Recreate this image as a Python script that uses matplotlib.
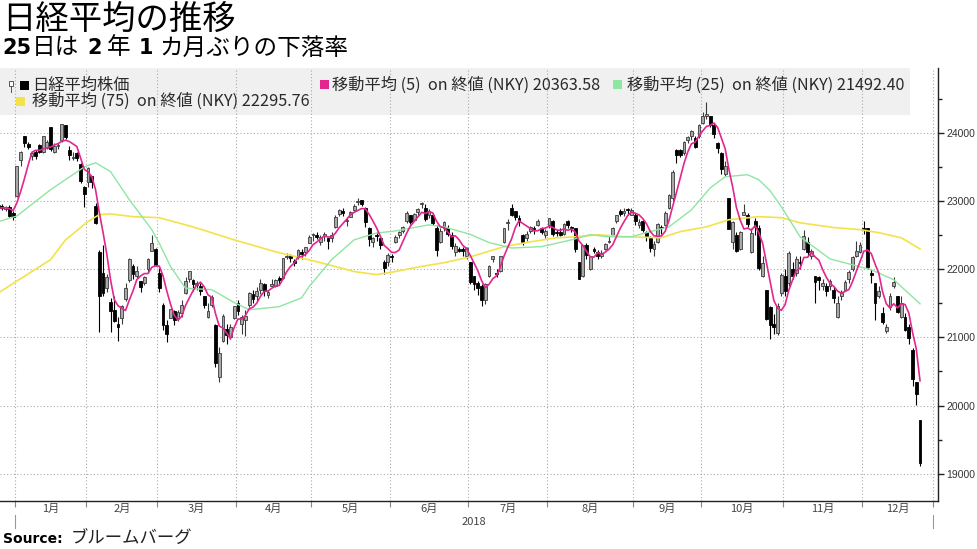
import numpy as np
import pandas as pd
import matplotlib
matplotlib.use("Agg")
import matplotlib.pyplot as plt
from matplotlib.patches import Rectangle
from matplotlib.lines import Line2D
from matplotlib.ticker import MultipleLocator, FixedLocator, NullFormatter
from matplotlib.transforms import blended_transform_factory

W, H = 977, 549
JP = ['Noto Sans CJK JP', 'DejaVu Sans']

## axis layout: trading days per month of 2018 (full months, Dec to the 28th)
month_labels = ['1月', '2月', '3月', '4月', '5月', '6月', '7月', '8月', '9月', '10月', '11月', '12月']
month_days = [19, 19, 21, 20, 21, 21, 21, 23, 18, 22, 21, 19]
n_dec2017 = 9   # Dec 19 - Dec 29 2017, partly off the left edge

## Nikkei 225 daily candles, Dec 19 2017 - Dec 25 2018
opens = [
    22900, 22850, 22880, 22880, 22909, 22922, 22880, 22912, 22830,  # Dec 2017
    23073, 23600, 23948, 23833, 23656, 23719, 23827, 23721, 23783, 24078,
    23722, 23804, 23890, 24110, 23753, 23630, 23706, 23540, 23200,  # Jan
    23276, 23361, 22921, 22250, 21937, 21720, 21520, 21395, 21200, 21279,
    21559, 21847, 22050, 21900, 21821, 21800, 22000, 22270, 22300,  # Feb
    21950, 21474, 21174, 21285, 21390, 21277, 21362, 21650, 21850, 21835,
    21774, 21750, 21600, 21300, 21475, 21185, 20420, 20950, 21120, 21000, 21280,  # Mar
    21500, 21200, 21250, 21470, 21640, 21610, 21700, 21780, 21620, 21760,
    21750, 21870, 21870, 22180, 22200, 22120, 22180, 22250, 22250, 22390,  # Apr
    22500, 22500, 22400, 22480, 22450, 22450, 22620, 22810, 22860, 22700,
    22770, 22870, 22980, 23010, 22900, 22600, 22400, 22500, 22450, 22100, 22100,  # May
    22200, 22400, 22500, 22560, 22700, 22800, 22720, 22840, 22950, 22900,
    22800, 22800, 22600, 22400, 22600, 22600, 22500, 22250, 22300, 22300, 22200,  # Jun
    22100, 21900, 21800, 21750, 21550, 21900, 22150, 21950, 21980, 22400,
    22680, 22900, 22850, 22750, 22500, 22450, 22560, 22600, 22650, 22600, 22500,  # Jul
    22650, 22700, 22550, 22550, 22520, 22700, 22620, 22600, 22100, 21900, 22350,
    22000, 22300, 22250, 22200, 22300, 22400, 22500, 22700, 22850, 22830, 22880, 22800,  # Aug
    22800, 22650, 22700, 22550, 22450, 22300, 22400, 22620, 22650,
    22900, 23050, 23750, 23750, 23700, 23900, 23950, 23930, 23950,  # Sep
    24150, 24250, 24250, 24120, 23850, 23700, 23400, 23050, 22400, 22500, 22300,
    22800, 22800, 22250, 22700, 22600, 21900, 21700, 21450, 21200, 21060, 21650,  # Oct
    21900, 21800, 22000, 21950, 22100, 22300, 22400, 22200, 21900, 21880, 21750,
    21750, 21750, 21700, 21300, 21600, 21700, 21850, 22000, 22200, 22250,  # Nov
    22600, 22600, 21950, 21800, 21600, 21360, 21100, 21450, 21750, 21600,
    21300, 21300, 21150, 20820, 20340, 19785,  # Dec
]
highs = [
    22950, 22930, 22900, 22920, 22950, 22950, 22930, 22940, 22850,
    23506, 23730, 23952, 23864, 23734, 23743, 23833, 23955, 23890, 24084,
    23849, 23856, 24129, 24110, 23809, 23715, 23713, 23560, 23224,
    23492, 23367, 22967, 22280, 22353, 21928, 21580, 21600, 21300, 21480,
    21800, 22160, 22072, 22050, 21821, 21900, 22170, 22502, 22313,
    22019, 21510, 21259, 21422, 21400, 21397, 21555, 21884, 21972, 21857,
    21831, 21797, 21608, 21504, 21614, 21200, 20860, 21349, 21190, 21200, 21454,
    21545, 21330, 21400, 21660, 21700, 21740, 21860, 21800, 21700, 21860,
    21860, 21900, 22170, 22240, 22220, 22150, 22300, 22300, 22330, 22500,
    22530, 22550, 22500, 22550, 22460, 22550, 22790, 22880, 22900, 22760,
    22850, 22950, 23050, 23010, 22910, 22620, 22470, 22540, 22480, 22130, 22240,
    22220, 22500, 22560, 22640, 22860, 22800, 22830, 22900, 22990, 22950,
    22880, 22830, 22650, 22600, 22700, 22650, 22540, 22380, 22330, 22320, 22320,
    22100, 21900, 21830, 21780, 21800, 22060, 22200, 22000, 22200, 22600,
    22730, 22950, 22860, 22800, 22520, 22560, 22640, 22640, 22730, 22620, 22590,
    22750, 22720, 22580, 22600, 22680, 22720, 22640, 22610, 22110, 22360, 22380,
    22200, 22330, 22280, 22280, 22380, 22480, 22620, 22800, 22880, 22890, 22900, 22900,
    22820, 22730, 22720, 22560, 22490, 22420, 22680, 22650, 22850,
    23100, 23450, 23760, 23760, 23880, 23960, 24040, 23950, 24130,
    24306, 24448, 24250, 24140, 23870, 23720, 23590, 23050, 22700, 22550, 22560,
    22960, 22830, 22600, 22750, 22650, 22200, 21700, 21460, 21340, 21500, 21950,
    22000, 22270, 22100, 22200, 22200, 22580, 22470, 22300, 21900, 21900, 21850,
    21800, 21850, 21750, 21600, 21700, 21840, 21990, 22200, 22420, 22400,
    22700, 22610, 22000, 21800, 21750, 21450, 21200, 21650, 21880, 21600,
    21600, 21350, 21200, 20850, 20350, 19790,
]
lows = [
    22830, 22820, 22830, 22850, 22880, 22861, 22860, 22770, 22720,
    23065, 23520, 23789, 23760, 23601, 23622, 23700, 23705, 23755, 23740,
    23700, 23764, 23860, 23914, 23603, 23600, 23586, 23270, 22906,
    23211, 23186, 22659, 21078, 21600, 21662, 21079, 21220, 20950, 21200,
    21540, 21810, 21860, 21866, 21667, 21773, 21950, 22260, 22040,
    21670, 21108, 20937, 21285, 21181, 21246, 21295, 21642, 21805, 21680,
    21689, 21622, 21437, 21279, 21451, 20559, 20347, 20929, 20900, 20980, 21270,
    21330, 21056, 21020, 21450, 21500, 21540, 21630, 21600, 21570, 21750,
    21740, 21770, 21860, 22150, 22100, 22050, 22150, 22150, 22200, 22380,
    22420, 22440, 22350, 22420, 22300, 22400, 22600, 22780, 22780, 22640,
    22760, 22850, 22940, 22920, 22620, 22340, 22320, 22420, 22300, 21930, 22050,
    22100, 22380, 22450, 22530, 22680, 22660, 22700, 22780, 22900, 22700,
    22750, 22650, 22200, 22380, 22560, 22480, 22300, 22200, 22250, 22200, 22150,
    21780, 21700, 21620, 21460, 21490, 21880, 22100, 21880, 21960, 22380,
    22580, 22780, 22720, 22640, 22350, 22420, 22530, 22520, 22630, 22520, 22450,
    22600, 22480, 22480, 22480, 22500, 22610, 22550, 22250, 21850, 21880, 22150,
    21990, 22240, 22150, 22160, 22280, 22380, 22480, 22680, 22780, 22780, 22800, 22790,
    22650, 22600, 22550, 22420, 22250, 22200, 22380, 22520, 22640,
    22880, 23000, 23550, 23640, 23670, 23850, 23900, 23780, 23930,
    24130, 24200, 24080, 23930, 23700, 23400, 23360, 22600, 22300, 22250, 22280,
    22790, 22620, 22240, 22500, 21990, 21880, 21250, 20970, 21050, 21035, 21600,
    21600, 21750, 21850, 21900, 22000, 22280, 22200, 22150, 21500, 21700, 21700,
    21600, 21700, 21500, 21290, 21550, 21680, 21800, 21970, 22180, 22230,
    22520, 22000, 21800, 21260, 21580, 21200, 21060, 21400, 21720, 21350,
    21280, 21100, 20900, 20290, 20006, 19117,
]
closes = [
    22868, 22891, 22866, 22902, 22939, 22892, 22911, 22783, 22765,
    23506, 23714, 23849, 23788, 23710, 23653, 23714, 23951, 23868, 23763,
    23808, 23816, 24124, 23940, 23669, 23631, 23629, 23291, 23098,
    23486, 23274, 22682, 21610, 21645, 21891, 21382, 21245, 21154, 21464,
    21720, 22150, 21925, 21970, 21736, 21892, 22153, 22389, 22068,
    21724, 21181, 21042, 21417, 21252, 21368, 21469, 21824, 21968, 21777,
    21803, 21676, 21480, 21380, 21591, 20617, 20766, 21317, 21031, 21159, 21454,
    21388, 21292, 21320, 21645, 21568, 21678, 21794, 21687, 21660, 21778,
    21835, 21847, 22158, 22191, 22162, 22088, 22278, 22215, 22319, 22467,
    22508, 22472, 22467, 22509, 22408, 22497, 22758, 22865, 22818, 22717,
    22838, 22930, 23002, 22960, 22689, 22437, 22450, 22481, 22358, 22018, 22201,
    22171, 22475, 22539, 22625, 22823, 22694, 22804, 22878, 22966, 22738,
    22851, 22680, 22278, 22555, 22693, 22516, 22338, 22342, 22271, 22270, 22304,
    21811, 21785, 21717, 21546, 21788, 22052, 22196, 21932, 22187, 22597,
    22697, 22794, 22764, 22698, 22397, 22510, 22614, 22586, 22712, 22544, 22553,
    22746, 22512, 22525, 22507, 22662, 22644, 22598, 22298, 21857, 22356, 22204,
    22192, 22270, 22199, 22219, 22362, 22410, 22601, 22799, 22813, 22848, 22869, 22865,
    22707, 22697, 22580, 22487, 22307, 22373, 22664, 22604, 22821,
    23094, 23420, 23672, 23674, 23869, 23940, 24033, 23796, 24120,
    24245, 24270, 24110, 23975, 23783, 23469, 23506, 22590, 22694, 22271, 22549,
    22841, 22658, 22532, 22614, 22010, 22091, 21268, 21184, 21149, 21457, 21920,
    21687, 22243, 21898, 22147, 22085, 22486, 22250, 22269, 21810, 21846, 21803,
    21680, 21821, 21583, 21507, 21646, 21812, 21952, 22177, 22262, 22351,
    22574, 22036, 21919, 21501, 21679, 21219, 21148, 21602, 21816, 21375,
    21506, 21115, 20987, 20392, 20166, 19155,
]

## 25- and 75-day averages (day index from Jan 4 2018 = 0)
ma25_day = [-5, 0, 9, 18, 21, 25, 30, 36, 38, 41, 45, 52, 58, 62, 70, 76, 78, 84, 90,
            96, 101, 110, 114, 121, 126, 132, 140, 148, 153, 158, 164, 169, 174, 180,
            185, 189, 195, 198, 201, 204, 209, 217, 226, 228, 234, 241]
ma25_val = [22695, 22780, 23165, 23500, 23560, 23430, 23020, 22580, 22380, 22040, 21720,
            21700, 21510, 21405, 21450, 21580, 21745, 22140, 22430, 22530, 22560, 22650,
            22620, 22510, 22390, 22310, 22330, 22430, 22505, 22475, 22475, 22550, 22620,
            22870, 23190, 23355, 23385, 23310, 23150, 22915, 22475, 22150, 22020, 21990,
            21845, 21492]
ma75_day = [-5, 9, 13, 19, 22, 25, 31, 38, 47, 58, 69, 80, 90, 96, 101, 108, 114, 121,
            130, 137, 144, 149, 155, 162, 172, 177, 184, 190, 198, 204, 209, 218, 225,
            230, 236, 241]
ma75_val = [21650, 22140, 22430, 22700, 22800, 22810, 22770, 22755, 22620, 22430, 22255,
            22110, 21965, 21920, 21965, 22040, 22095, 22180, 22330, 22400, 22460, 22475,
            22505, 22475, 22460, 22550, 22620, 22725, 22770, 22755, 22680, 22610, 22580,
            22535, 22460, 22296]

legend_labels = ['日経平均株価',
                 '移動平均 (5)  on 終値 (NKY) 20363.58',
                 '移動平均 (25)  on 終値 (NKY) 21492.40',
                 '移動平均 (75)  on 終値 (NKY) 22295.76']

C_MA5 = '#e3268f'
C_MA25 = '#8ee6a0'
C_MA75 = '#f3e24a'


def fx(x):
    return x / W


def fy(y):
    return 1 - y / H


opens = np.array(opens, float)
highs = np.array(highs, float)
lows = np.array(lows, float)
closes = np.array(closes, float)
idx = np.arange(len(closes)) - n_dec2017
ma5 = pd.Series(closes).rolling(5).mean()

fig = plt.figure(figsize=(W / 100, H / 100), dpi=100)
ax = fig.add_axes([0.0, 1 - 501 / H, 938 / W, (501 - 68) / H])

starts = np.concatenate([[0], np.cumsum(month_days)])
bounds = starts - 0.5
centers = (bounds[:-1] + bounds[1:]) / 2

# candles
up = closes >= opens
lo = np.minimum(opens, closes)
hgt = np.maximum(np.abs(closes - opens), 10)
ax.vlines(idx[up], lows[up], highs[up], color='#3a3a3a', lw=0.8, zorder=2)
ax.vlines(idx[~up], lows[~up], highs[~up], color='black', lw=0.8, zorder=2)
ax.bar(idx[up], hgt[up], bottom=lo[up], width=0.75, color='#a8a8a8',
       edgecolor='#3a3a3a', linewidth=0.6, zorder=3)
ax.bar(idx[~up], hgt[~up], bottom=lo[~up], width=0.75, color='black',
       edgecolor='black', linewidth=0.6, zorder=3)

# moving averages
ax.plot(ma75_day, ma75_val, color=C_MA75, lw=1.2, zorder=4)
ax.plot(ma25_day, ma25_val, color=C_MA25, lw=1.0, zorder=4)
ax.plot(idx, ma5, color=C_MA5, lw=1.2, zorder=5)

ax.set_xlim(-4.5, bounds[-1] + 1.3)
ax.set_ylim(18600, 24950)

# legend panel
ax.add_patch(Rectangle((0, (501 - 115) / 433), 910 / 938, 1, transform=ax.transAxes,
                       color='#f0f0f0', zorder=0.1, lw=0))

# grid and ticks
ax.set_axisbelow(True)
ax.yaxis.tick_right()
ax.set_yticks(range(19000, 24001, 1000))
ax.yaxis.set_minor_locator(MultipleLocator(500))
ax.tick_params(axis='y', which='major', length=4, width=1, color='#222222',
               labelsize=7.5, labelcolor='#333333', pad=2)
ax.tick_params(axis='y', which='minor', length=3, width=1, color='#222222')
for lab in ax.get_yticklabels():
    lab.set_family('Liberation Sans')

ax.xaxis.set_major_locator(FixedLocator(bounds))
ax.xaxis.set_major_formatter(NullFormatter())
ax.xaxis.set_minor_locator(FixedLocator(centers))
ax.set_xticklabels(month_labels, minor=True, family=JP, fontsize=8, color='#444444')
ax.tick_params(axis='x', which='major', length=4, width=0.8, color='#888888')
ax.tick_params(axis='x', which='minor', length=0, pad=2)

ax.grid(True, which='major', color='#aaaaaa', lw=0.8, ls=(0, (1, 2)))

for s in ['left', 'top']:
    ax.spines[s].set_visible(False)
for s in ['bottom', 'right']:
    ax.spines[s].set_color('#222222')
    ax.spines[s].set_linewidth(1)

# year separators and year label
tr = blended_transform_factory(ax.transData, ax.transAxes)
for b in [bounds[0], bounds[-1]]:
    ax.add_line(Line2D([b, b], [-14 / 433, -27 / 433], transform=tr, color='#999999',
                       lw=0.8, clip_on=False))
ax.text((bounds[0] + bounds[-1]) / 2, -21 / 433, '2018', transform=tr, ha='center',
        va='center', fontsize=8, color='#444444', family=JP)

# legend entries
sq = [(20, 81, 'black'), (320, 80, C_MA5), (613, 80, C_MA25), (16, 97, C_MA75)]
txt_pos = [(32, 85), (332, 85), (627, 85), (32, 101)]
for (sx, sy, c), (tx, ty), lab in zip(sq, txt_pos, legend_labels):
    fig.add_artist(Rectangle((fx(sx), fy(sy + 9)), 9 / W, 9 / H, transform=fig.transFigure,
                             color=c, lw=0))
    fig.text(fx(tx), fy(ty), lab, family=JP, fontsize=11.7, color='#2a2a2a', va='center')
# tiny candle icon before the first entry
fig.add_artist(Rectangle((fx(9), fy(86)), 4 / W, 5 / H, transform=fig.transFigure,
                         facecolor='white', edgecolor='#555555', lw=0.7))
fig.add_artist(Line2D([fx(11), fx(11)], [fy(86), fy(92)], transform=fig.transFigure,
                      color='#555555', lw=0.7))

# titles
fig.text(fx(2), fy(19), '日経平均の推移', family=JP, fontsize=24, color='black', va='center')

renderer = fig.canvas.get_renderer()
x = 2
num = dict(family='DejaVu Sans', fontweight='bold', fontsize=15)
jp = dict(family=JP, fontsize=17)
pieces = [('25', num, 1), ('日は', jp, 8), ('2', num, 5), ('年', jp, 8), ('1', num, 6),
          ('カ月ぶりの下落率', jp, 0)]
for s, kw, gap in pieces:
    t = fig.text(fx(x), fy(48), s, va='center', color='black', **kw)
    x += t.get_window_extent(renderer=renderer).width + gap

t = fig.text(fx(3), fy(539), 'Source:', family='DejaVu Sans', fontweight='bold',
             fontsize=10, va='center', color='black')
x = 3 + t.get_window_extent(renderer=renderer).width + 8
fig.text(fx(x), fy(539), 'ブルームバーグ', family=JP, fontsize=12.5, va='center', color='#222222')

fig.savefig('out.png', dpi=100)
